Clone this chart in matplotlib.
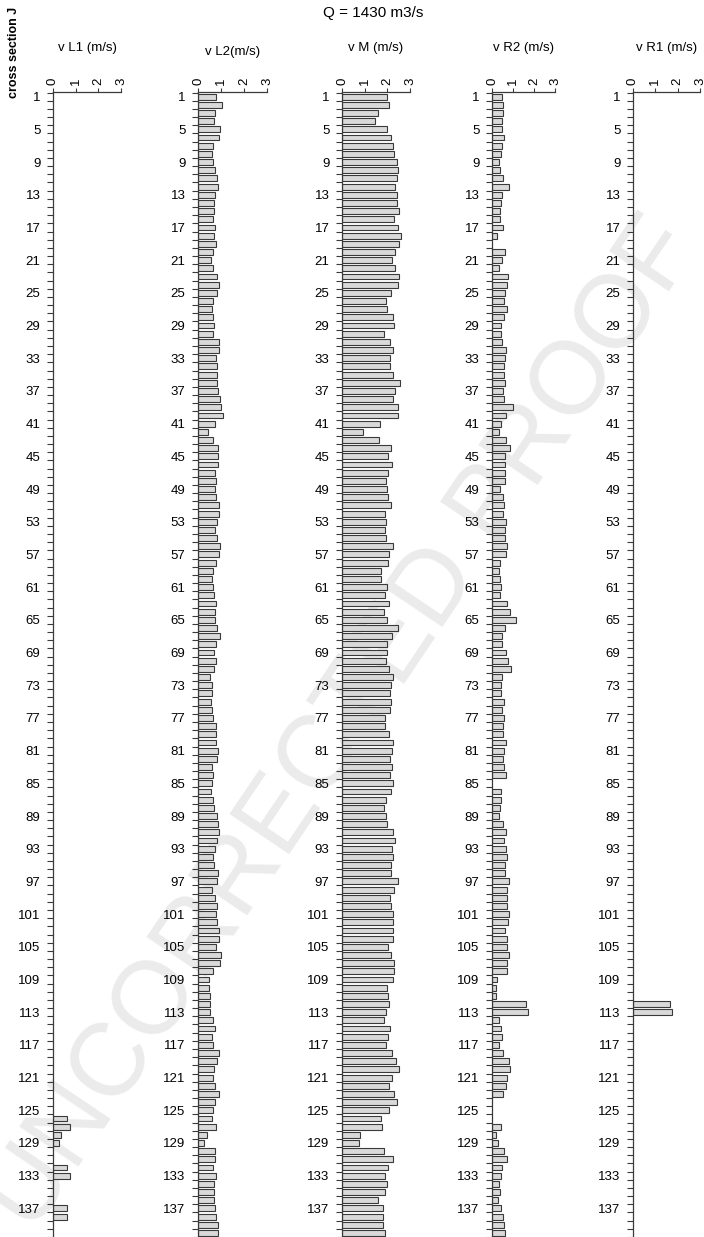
import matplotlib
matplotlib.use("Agg")
import matplotlib.pyplot as plt
import numpy as np

plt.rcParams['font.family'] = ['Liberation Sans', 'DejaVu Sans']

title = "Q = 1430 m3/s"
y_title = "cross section J"
panel_titles = ["v L1 (m/s)", "v L2(m/s)", "v M (m/s)", "v R2 (m/s)", "v R1 (m/s)"]

sections = np.arange(1, 141)
label_sections = np.arange(1, 141, 4)
x_ticks = [0, 1, 2, 3]

# L1 and R1 only carry flow at a few sections
l1_sections = [126, 127, 128, 129, 132, 133, 137, 138]
l1_values = [0.60, 0.75, 0.37, 0.26, 0.62, 0.75, 0.60, 0.60]

r1_sections = [112, 113]
r1_values = [1.65, 1.75]

l2_values = [
    0.78, 1.03, 0.74, 0.70, 0.96, 0.91, 0.67, 0.61, 0.67, 0.74,
    0.83, 0.87, 0.75, 0.71, 0.70, 0.65, 0.74, 0.71, 0.77, 0.67,
    0.55, 0.67, 0.84, 0.90, 0.81, 0.64, 0.61, 0.65, 0.70, 0.67,
    0.91, 0.91, 0.77, 0.81, 0.84, 0.83, 0.86, 0.97, 1.00, 1.10,
    0.74, 0.42, 0.65, 0.86, 0.86, 0.86, 0.74, 0.78, 0.74, 0.80,
    0.93, 0.90, 0.83, 0.74, 0.84, 0.97, 0.90, 0.78, 0.65, 0.61,
    0.64, 0.70, 0.80, 0.72, 0.75, 0.84, 0.96, 0.78, 0.70, 0.77,
    0.70, 0.52, 0.61, 0.62, 0.57, 0.59, 0.64, 0.80, 0.77, 0.78,
    0.87, 0.81, 0.61, 0.65, 0.61, 0.58, 0.65, 0.70, 0.83, 0.88,
    0.93, 0.83, 0.72, 0.67, 0.70, 0.86, 0.81, 0.62, 0.74, 0.83,
    0.78, 0.81, 0.90, 0.90, 0.80, 1.00, 0.97, 0.65, 0.49, 0.48,
    0.52, 0.52, 0.52, 0.65, 0.74, 0.61, 0.67, 0.91, 0.83, 0.70,
    0.65, 0.72, 0.91, 0.72, 0.64, 0.62, 0.78, 0.39, 0.26, 0.72,
    0.72, 0.65, 0.77, 0.70, 0.70, 0.70, 0.75, 0.80, 0.85, 0.85,
]

m_values = [
    2.00, 2.07, 1.60, 1.46, 1.98, 2.17, 2.26, 2.30, 2.42, 2.45,
    2.41, 2.35, 2.41, 2.41, 2.51, 2.30, 2.48, 2.61, 2.53, 2.32,
    2.22, 2.32, 2.50, 2.47, 2.17, 1.95, 2.00, 2.26, 2.30, 1.86,
    2.13, 2.26, 2.11, 2.10, 2.26, 2.58, 2.35, 2.27, 2.47, 2.47,
    1.67, 0.93, 1.62, 2.17, 2.04, 2.22, 2.04, 1.96, 1.98, 2.04,
    2.17, 1.91, 1.94, 1.91, 1.92, 2.26, 2.08, 2.01, 1.73, 1.73,
    2.00, 1.91, 2.07, 1.86, 1.98, 2.48, 2.22, 2.00, 1.98, 1.94,
    2.07, 2.27, 2.16, 2.11, 2.14, 2.11, 1.91, 1.91, 2.08, 2.27,
    2.22, 2.11, 2.22, 2.11, 2.23, 2.17, 1.96, 1.86, 1.96, 2.00,
    2.27, 2.36, 2.22, 2.23, 2.14, 2.17, 2.47, 2.30, 2.13, 2.17,
    2.26, 2.27, 2.26, 2.23, 2.04, 2.17, 2.30, 2.29, 2.26, 1.98,
    2.05, 2.08, 1.94, 1.86, 2.10, 2.05, 1.95, 2.19, 2.39, 2.50,
    2.20, 2.07, 2.30, 2.41, 2.08, 1.73, 1.77, 0.80, 0.77, 1.86,
    2.26, 2.05, 1.91, 1.98, 1.90, 1.60, 1.80, 1.80, 1.80, 1.90,
]

r2_values = [
    0.46, 0.54, 0.52, 0.49, 0.48, 0.56, 0.49, 0.44, 0.33, 0.37,
    0.54, 0.83, 0.48, 0.41, 0.37, 0.40, 0.51, 0.24, 0.00, 0.63,
    0.48, 0.35, 0.78, 0.70, 0.63, 0.59, 0.73, 0.57, 0.41, 0.44,
    0.49, 0.67, 0.62, 0.59, 0.57, 0.63, 0.51, 0.56, 1.00, 0.65,
    0.43, 0.33, 0.68, 0.87, 0.63, 0.63, 0.63, 0.63, 0.37, 0.51,
    0.57, 0.52, 0.67, 0.63, 0.63, 0.73, 0.68, 0.37, 0.33, 0.37,
    0.44, 0.40, 0.71, 0.87, 1.16, 0.63, 0.49, 0.49, 0.68, 0.76,
    0.89, 0.49, 0.43, 0.44, 0.59, 0.49, 0.59, 0.51, 0.51, 0.68,
    0.57, 0.52, 0.59, 0.68, 0.00, 0.43, 0.44, 0.40, 0.35, 0.52,
    0.65, 0.59, 0.68, 0.71, 0.63, 0.62, 0.81, 0.71, 0.70, 0.73,
    0.79, 0.78, 0.60, 0.73, 0.70, 0.81, 0.71, 0.71, 0.24, 0.21,
    0.21, 1.63, 1.71, 0.35, 0.44, 0.46, 0.32, 0.52, 0.83, 0.84,
    0.73, 0.68, 0.54, 0.00, 0.00, 0.00, 0.44, 0.21, 0.30, 0.59,
    0.70, 0.49, 0.41, 0.33, 0.40, 0.30, 0.45, 0.50, 0.55, 0.60,
]

W, H = 704, 1237
fig = plt.figure(figsize=(W / 100, H / 100), dpi=100)

# faint proof watermark behind the panels
fig.text(0.49, 0.414, "UNCORRECTED PROOF", rotation=56, fontsize=74,
         color="#ebebeb", ha="center", va="center", zorder=-5,
         rotation_mode="anchor")

panels = [
    (53, 68, l1_sections, l1_values),
    (198, 69, list(sections), l2_values),
    (342, 68, list(sections), m_values),
    (492, 63, list(sections), r2_values),
    (633, 67, r1_sections, r1_values),
]

top_px = 92
ax_h = (H - top_px) / H
edge = "#3a3a3a"

for (x0, w, secs, vals), ptitle in zip(panels, panel_titles):
    ax = fig.add_axes([x0 / W, 0, w / W, ax_h])
    ax.set_facecolor("none")
    secs = np.asarray(secs)
    vals = np.asarray(vals)
    keep = vals > 0
    ax.barh(secs[keep], vals[keep], height=0.72, color="#d9d9d9",
            edgecolor=edge, linewidth=0.8, zorder=2)
    ax.set_xlim(0, 3)
    ax.set_ylim(140.3, 0.43)

    for s in ["right", "bottom"]:
        ax.spines[s].set_visible(False)
    for s in ["left", "top"]:
        ax.spines[s].set_color(edge)
        ax.spines[s].set_linewidth(0.9)

    ax.xaxis.set_ticks_position("top")
    ax.set_xticks(x_ticks)
    ax.set_xticklabels([str(t) for t in x_ticks], rotation=90, fontsize=9.5)
    ax.tick_params(axis="x", direction="out", length=3, width=0.8,
                   color=edge, pad=2)

    ax.set_yticks(label_sections)
    ax.set_yticklabels([str(t) for t in label_sections], fontsize=9.5)
    ax.set_yticks(np.arange(0.5, 141, 1.0), minor=True)
    ax.tick_params(axis="y", which="major", length=0, pad=9)
    ax.tick_params(axis="y", which="minor", direction="out", length=4,
                   width=0.8, color=edge)

    cx = (x0 + w / 2) / W
    ty = 0.958 if ptitle == "v L2(m/s)" else 0.961
    fig.text(cx, ty, ptitle, ha="center", va="center", fontsize=9.5)

fig.text(0.53, 0.9895, title, ha="center", va="center", fontsize=11)
fig.text(0.02, 0.958, y_title, rotation=90, ha="center", va="center",
         fontsize=9, fontweight="bold")

fig.savefig("out.png", dpi=100)
